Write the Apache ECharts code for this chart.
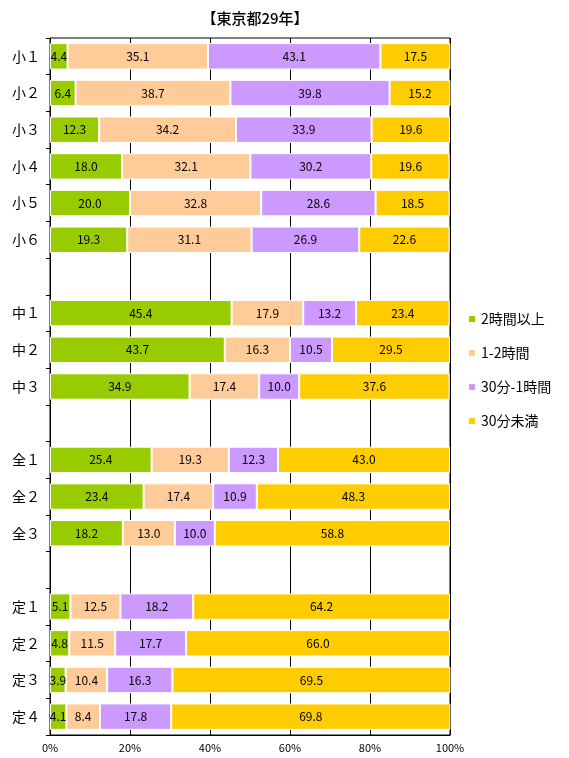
<!DOCTYPE html>
<html><head><meta charset="utf-8">
<script src="https://cdn.jsdelivr.net/npm/echarts@6/dist/echarts.min.js"></script>
<style>html,body{margin:0;padding:0;background:#fff}#c{width:569px;height:758px}</style>
</head><body><div id="c"></div>
<script>
const categories = ['小１','小２','小３','小４','小５','小６','','中１','中２','中３','','全１','全２','全３','','定１','定２','定３','定４'];
const seriesNames = ['2時間以上','1-2時間','30分-1時間','30分未満'];
const over2h   = [4.4,6.4,12.3,18.0,20.0,19.3,null,45.4,43.7,34.9,null,25.4,23.4,18.2,null,5.1,4.8,3.9,4.1];
const h1to2    = [35.1,38.7,34.2,32.1,32.8,31.1,null,17.9,16.3,17.4,null,19.3,17.4,13.0,null,12.5,11.5,10.4,8.4];
const m30to1h  = [43.1,39.8,33.9,30.2,28.6,26.9,null,13.2,10.5,10.0,null,12.3,10.9,10.0,null,18.2,17.7,16.3,17.8];
const under30m = [17.5,15.2,19.6,19.6,18.5,22.6,null,23.4,29.5,37.6,null,43.0,48.3,58.8,null,64.2,66.0,69.5,69.8];
const xTicks = [0,20,40,60,80,100];
const colors = ['#99CC00','#FFCC99','#CC99FF','#FFCC00'];
const FONT = '"Noto Sans CJK JP", sans-serif';
const values = [over2h, h1to2, m30to1h, under30m];
const chart = echarts.init(document.getElementById('c'));
chart.setOption({
  animation: false,
  textStyle: {fontFamily: FONT},
  title: {text: '【東京都29年】', left: 250, top: 6, textAlign: 'center',
    textStyle: {fontSize: 15, fontWeight: 500, color: '#000', fontFamily: FONT}},
  legend: {orient: 'vertical', left: 462, top: 307, itemGap: 20, itemWidth: 8, itemHeight: 8,
    icon: 'rect', textStyle: {fontSize: 14, color: '#000', fontFamily: FONT},
    data: seriesNames},
  grid: {left: 50, right: 119, top: 38, bottom: 23, show: true, borderColor: '#000', borderWidth: 1},
  xAxis: {type: 'value', min: 0, max: 100, interval: 20,
    axisLabel: {formatter: v => xTicks.includes(v) ? v + '%' : '', fontSize: 11, color: '#000', margin: 7},
    splitLine: {lineStyle: {color: '#000', width: 1}},
    axisLine: {show: true, lineStyle: {color: '#000'}}, axisTick: {show: false}},
  yAxis: {type: 'category', data: categories, inverse: true,
    axisLabel: {fontSize: 14, color: '#000', margin: 10},
    axisLine: {lineStyle: {color: '#000'}},
    axisTick: {show: true, length: 4, lineStyle: {color: '#000'}}},
  series: seriesNames.map((n, i) => ({
    name: n, type: 'bar', stack: 'a', data: values[i], barCategoryGap: '28%',
    itemStyle: {color: colors[i], borderColor: '#fff', borderWidth: 1},
    label: {show: true, position: 'inside', color: '#000', fontSize: 12, fontFamily: FONT,
      formatter: p => p.value == null ? '' : Number(p.value).toFixed(1)}
  }))
});
</script></body></html>
